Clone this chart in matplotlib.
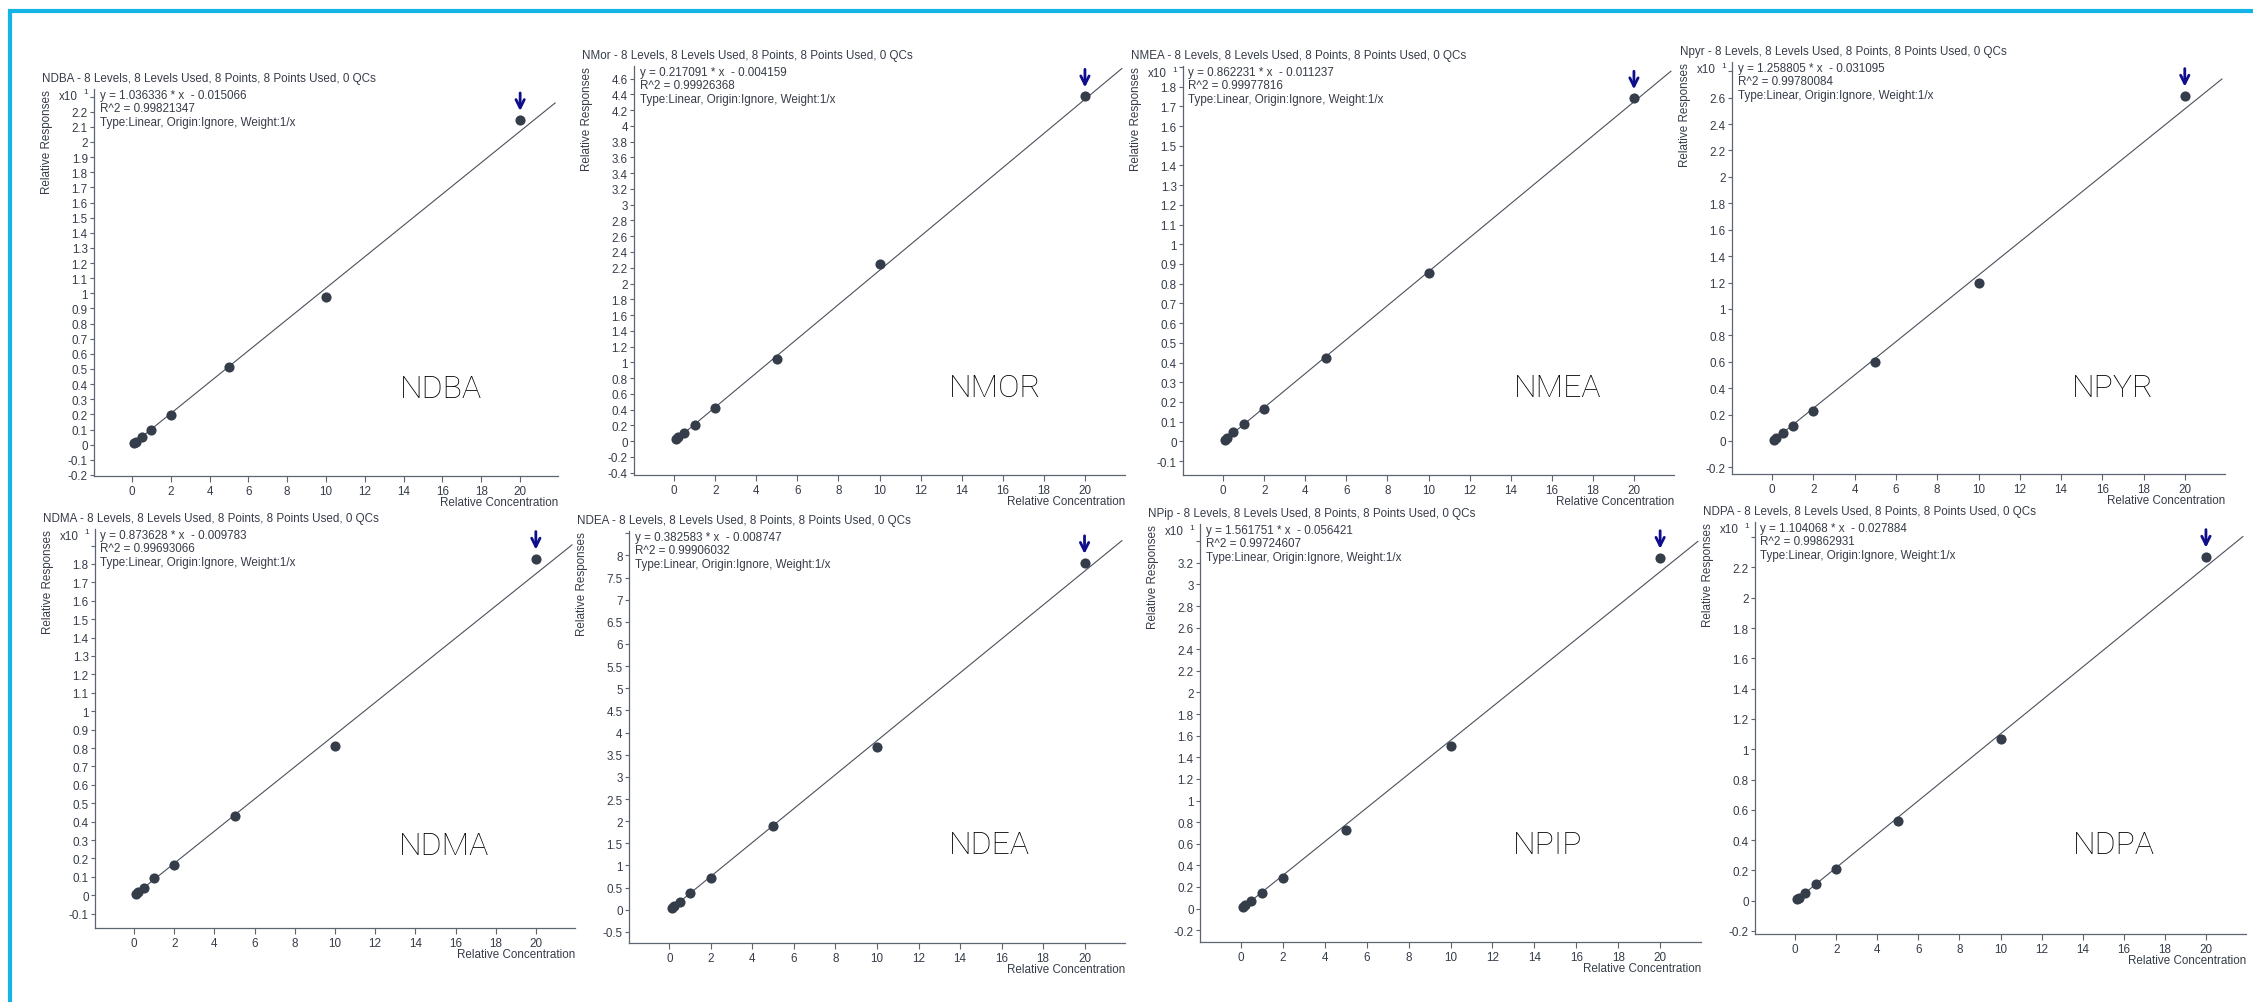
import numpy as np
import matplotlib
matplotlib.use("Agg")
import matplotlib.pyplot as plt
from matplotlib.lines import Line2D
from matplotlib.ticker import FixedLocator, FixedFormatter

# calibration data (responses in real units, the axes show them / 10**exponent)
compounds = ["NDBA", "NMor", "NMEA", "Npyr", "NDMA", "NDEA", "NPip", "NDPA"]
big_labels = ["NDBA", "NMOR", "NMEA", "NPYR", "NDMA", "NDEA", "NPIP", "NDPA"]
concentrations = [0.1, 0.2, 0.5, 1, 2, 5, 10, 20]

ndba = [0.09, 0.20, 0.48, 0.99, 1.96, 5.13, 9.78, 21.45]
nmor = [0.021, 0.047, 0.098, 0.208, 0.416, 1.040, 2.246, 4.374]
nmea = [0.075, 0.16, 0.46, 0.88, 1.66, 4.24, 8.53, 17.41]
npyr = [0.10, 0.22, 0.58, 1.16, 2.30, 6.01, 11.95, 26.15]
ndma = [0.08, 0.17, 0.40, 0.93, 1.62, 4.33, 8.10, 18.29]
ndea = [0.04, 0.08, 0.165, 0.368, 0.714, 1.895, 3.68, 7.83]
npip = [0.14, 0.28, 0.68, 1.45, 2.78, 7.28, 15.06, 32.47]
ndpa = [0.10, 0.20, 0.51, 1.08, 2.07, 5.24, 10.68, 22.71]
responses = [ndba, nmor, nmea, npyr, ndma, ndea, npip, ndpa]

slopes = [1.036336, 0.217091, 0.862231, 1.258805, 0.873628, 0.382583, 1.561751, 1.104068]
intercepts = [-0.015066, -0.004159, -0.011237, -0.031095, -0.009783, -0.008747, -0.056421, -0.027884]
r_squared = [0.99821347, 0.99926368, 0.99977816, 0.99780084, 0.99693066, 0.99906032, 0.99724607, 0.99862931]
exponents = [1, 0, 1, 1, 1, 0, 1, 1]

# y axis ranges in displayed units
y_min = [-0.207, -0.43, -0.171, -0.25, -0.178, -0.75, -0.31, -0.22]
y_max = [2.35, 4.76, 1.905, 2.87, 1.99, 8.55, 3.56, 2.50]
y_step = [0.1, 0.2, 0.1, 0.2, 0.1, 0.5, 0.2, 0.2]
x_ticks = [0, 2, 4, 6, 8, 10, 12, 14, 16, 18, 20]

# layout, figure pixels: (spine x, right, top, bottom)
W, H = 2253, 1003
panels = [
    (94, 558, 90, 477),
    (634, 1125, 67, 476),
    (1183, 1674, 67, 476),
    (1732, 2225, 63, 475),
    (95, 575, 530, 929),
    (629, 1125, 532, 944),
    (1200, 1701, 525, 943),
    (1755, 2246, 523, 935),
]
name_pos = [(0.747, 0.227), (0.735, 0.213), (0.762, 0.213), (0.772, 0.209),
            (0.727, 0.208), (0.726, 0.238), (0.694, 0.234), (0.731, 0.218)]

TEXT = "#363c48"
SPINE = "#5d6472"
POINT = "#343d49"
LINE = "#4b505c"
ARROW = "#0e0e8c"
BORDER = "#14b4e6"
FS = 8.4

plt.rcParams["font.family"] = ["Liberation Sans", "DejaVu Sans"]


def fx(px):
    return px / W


def fy(py):
    return 1 - py / H


def main() -> None:
    fig = plt.figure(figsize=(W / 100, H / 100), dpi=100)
    fig.patch.set_facecolor("white")

    for i, (l, r, t, b) in enumerate(panels):
        ax = fig.add_axes([fx(l), fy(b), (r - l) / W, (b - t) / H])
        scale = 10 ** exponents[i]
        ax.set_xlim(-1.95, 21.95)
        ax.set_ylim(y_min[i] * scale, y_max[i] * scale)

        # top tick label gives way to the exponent label (or the axis end)
        step = y_step[i]
        ks = np.arange(np.ceil(y_min[i] / step - 1e-9), np.floor(y_max[i] / step + 1e-9) + 1)
        ticks = ks * step
        thresh = 19 if exponents[i] else 6
        labels = []
        for v in ticks:
            dist = (y_max[i] - v) / (y_max[i] - y_min[i]) * (b - t)
            labels.append("" if dist < thresh else f"{round(v, 3):g}")
        ax.yaxis.set_major_locator(FixedLocator(ticks * scale))
        ax.yaxis.set_major_formatter(FixedFormatter(labels))
        ax.set_xticks(x_ticks)
        ax.set_xticklabels([str(v) for v in x_ticks])

        for side in ("top", "right"):
            ax.spines[side].set_visible(False)
        for side in ("left", "bottom"):
            ax.spines[side].set_color(SPINE)
            ax.spines[side].set_linewidth(0.9)
        ax.tick_params(axis="y", length=3, width=0.8, color=SPINE, pad=1.5,
                       labelsize=FS, labelcolor=TEXT)
        ax.tick_params(axis="x", length=4.3, width=0.8, color=SPINE, pad=2,
                       labelsize=FS, labelcolor=TEXT)

        xs = np.array([0.0, 21.8])
        ax.plot(xs, slopes[i] * xs + intercepts[i], color=LINE, lw=0.8, zorder=2)
        ax.plot(concentrations, responses[i], "o", ms=7.3, color=POINT, mec="none", zorder=3)
        ax.annotate("", xy=(concentrations[-1], responses[i][-1]), xytext=(0, 19.5),
                    textcoords="offset points",
                    arrowprops=dict(arrowstyle="->", color=ARROW, lw=2.0,
                                    shrinkA=0, shrinkB=6.5, mutation_scale=15))

        ax.text(name_pos[i][0], name_pos[i][1], big_labels[i], transform=ax.transAxes,
                ha="center", va="center", fontsize=23, family="Roboto",
                fontweight="light", color="#000000")

        # header texts
        fig.text(fx(l - 52), fy(t - 11),
                 f"{compounds[i]} - 8 Levels, 8 Levels Used, 8 Points, 8 Points Used, 0 QCs",
                 ha="left", va="center", fontsize=FS, color=TEXT)
        eq_lines = [
            f"y = {slopes[i]:.6f} * x  - {abs(intercepts[i]):.6f}",
            f"R^2 = {r_squared[i]:.8f}",
            "Type:Linear, Origin:Ignore, Weight:1/x",
        ]
        for k, line in enumerate(eq_lines):
            fig.text(fx(l + 5.5), fy(t + 6 + 13.3 * k), line, ha="left", va="center",
                     fontsize=FS, color=TEXT)
        fig.text(fx(l - 47), fy(t), "Relative Responses", rotation=90,
                 ha="center", va="top", fontsize=FS, color=TEXT)
        fig.text(fx(r), fy(b + 26), "Relative Concentration", ha="right", va="center",
                 fontsize=FS, color=TEXT)
        if exponents[i]:
            fig.text(fx(l - 16), fy(t + 7), "x10", ha="right", va="center",
                     fontsize=FS, color=TEXT)
            fig.text(fx(l - 11), fy(t + 3), str(exponents[i]), ha="left", va="center",
                     fontsize=6, color=TEXT)

    # frame around the screenshot (left and top edges visible)
    fig.add_artist(Line2D([fx(10), fx(10)], [fy(11.5), 0], transform=fig.transFigure,
                          color=BORDER, lw=3, solid_capstyle="butt"))
    fig.add_artist(Line2D([fx(8), 1], [fy(11.5), fy(11.5)], transform=fig.transFigure,
                          color=BORDER, lw=3, solid_capstyle="butt"))

    fig.savefig("out.png", dpi=100, facecolor="white")
    plt.close(fig)


if __name__ == "__main__":
    main()
